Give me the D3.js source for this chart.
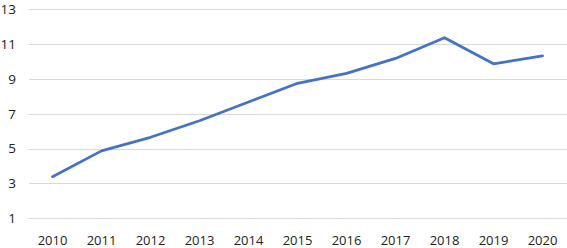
<!DOCTYPE html>
<html>
<head>
<meta charset="utf-8">
<script src="https://cdn.jsdelivr.net/npm/d3@7"></script>
<style>
  body { margin: 0; background: #fff; }
  svg { display: block; font-family: "Open Sans", "Noto Sans", sans-serif; }
</style>
</head>
<body>
<div id="chart"></div>
<script>
const years = ["2010", "2011", "2012", "2013", "2014", "2015", "2016", "2017", "2018", "2019", "2020"];
const values = [3.39, 4.87, 5.65, 6.6, 7.68, 8.75, 9.32, 10.18, 11.37, 9.87, 10.33];
const yTicks = [1, 3, 5, 7, 9, 11, 13];

const width = 567, height = 248;

const svg = d3.select("#chart")
  .append("svg")
    .attr("width", width)
    .attr("height", height);

const x = d3.scaleBand()
  .domain(years)
  .range([28, 567]);

const y = d3.scaleLinear()
  .domain([1, 13])
  .range([218.3, 9.3]);

// horizontal gridlines
svg.append("g")
  .selectAll("line")
  .data(yTicks)
  .join("line")
    .attr("x1", 29)
    .attr("x2", 567)
    .attr("y1", d => Math.round(y(d)) + 0.5)
    .attr("y2", d => Math.round(y(d)) + 0.5)
    .attr("stroke", "#d9d9d9")
    .attr("stroke-width", 1);

// y labels
svg.append("g")
    .attr("text-anchor", "end")
    .attr("font-size", 13.5)
    .attr("fill", "#222")
  .selectAll("text")
  .data(yTicks)
  .join("text")
    .attr("x", 16)
    .attr("y", d => y(d))
    .attr("dy", "0.35em")
    .text(d => d);

// x labels
svg.append("g")
    .attr("text-anchor", "middle")
    .attr("font-size", 13)
    .attr("fill", "#222")
  .selectAll("text")
  .data(years)
  .join("text")
    .attr("x", d => x(d) + x.bandwidth() / 2)
    .attr("y", 240)
    .attr("dy", "0.35em")
    .text(d => d);

// the series line
const line = d3.line()
  .x((d, i) => x(years[i]) + x.bandwidth() / 2)
  .y(d => y(d));

svg.append("path")
  .datum(values)
  .attr("fill", "none")
  .attr("stroke", "#4472c4")
  .attr("stroke-width", 2.75)
  .attr("stroke-linejoin", "round")
  .attr("stroke-linecap", "round")
  .attr("d", line);
</script>
</body>
</html>
